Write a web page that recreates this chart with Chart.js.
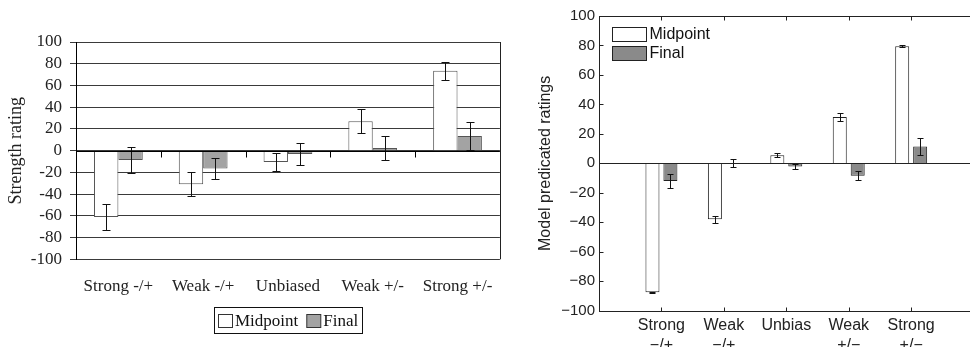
<!DOCTYPE html>
<html>
<head>
<meta charset="utf-8">
<script src="https://cdn.jsdelivr.net/npm/chart.js@4"></script>
<style>
  html, body { margin: 0; padding: 0; background: #fff; overflow: hidden; width: 970px; height: 347px; }
  #graficoEsq { position: absolute; left: 0; top: 0; }
  #graficoDir { position: absolute; left: 510px; top: 0; }
</style>
</head>
<body>
<canvas id="graficoEsq" width="510" height="347"></canvas>
<canvas id="graficoDir" width="470" height="347"></canvas>
<script>
// dados - grafico da esquerda (Strength rating)
const leftCategories = ['Strong -/+', 'Weak -/+', 'Unbiased', 'Weak +/-', 'Strong +/-'];
const leftMidpoint = [-61, -31, -10.5, 27, 73.5];
const leftMidpointErr = [12, 11, 8.5, 11, 8.5];
const leftFinal = [-8.5, -16.5, -3, 2.5, 13.5];
const leftFinalErr = [12, 10, 10, 11, 13];
const leftYTicks = [-100, -80, -60, -40, -20, 0, 20, 40, 60, 80, 100];

// dados - grafico da direita (Model predicated ratings)
const rightCategories = [['Strong', '\u2212/+'], ['Weak', '\u2212/+'], 'Unbias', ['Weak', '+/\u2212'], ['Strong', '+/\u2212']];
const rightMidpoint = [-87.5, -38, 5.5, 31.5, 79.5];
const rightMidpointErr = [0.5, 2.2, 1.2, 2.8, 0.5];
const rightFinal = [-12, 0.3, -2.2, -8.5, 11.5];
const rightFinalErr = [4.7, 2.6, 1.6, 3, 6];
const rightYTicks = [-100, -80, -60, -40, -20, 0, 20, 40, 60, 80, 100];

const serif = 'Liberation Serif';
const sans = 'Liberation Sans';

// barras de erro
const errorBars = {
  id: 'errorBars',
  afterDatasetsDraw(chart, args, opts) {
    const ctx = chart.ctx;
    const y = chart.scales.y;
    ctx.save();
    ctx.strokeStyle = '#111';
    ctx.lineWidth = 1;
    chart.data.datasets.forEach((ds, i) => {
      const meta = chart.getDatasetMeta(i);
      meta.data.forEach((bar, j) => {
        const v = ds.data[j];
        if (v == null) return;
        const e = ds.errors[j];
        const x = Math.round(bar.x) + 0.5;
        const y1 = Math.round(y.getPixelForValue(v + e)) + 0.5;
        const y2 = Math.round(y.getPixelForValue(v - e)) + 0.5;
        ctx.beginPath();
        ctx.moveTo(x, y1); ctx.lineTo(x, y2);
        ctx.moveTo(x - opts.cap, y1); ctx.lineTo(x + opts.cap, y1);
        ctx.moveTo(x - opts.cap, y2); ctx.lineTo(x + opts.cap, y2);
        ctx.stroke();
      });
    });
    ctx.restore();
  }
};

// borda direita, tracinhos no zero e legenda com moldura
const leftDecor = {
  id: 'leftDecor',
  afterDraw(chart) {
    const {ctx, chartArea: a} = chart;
    const xs = chart.scales.x, ys = chart.scales.y;
    ctx.save();
    ctx.strokeStyle = '#222';
    ctx.lineWidth = 1;
    ctx.beginPath();
    ctx.moveTo(Math.round(a.right) + 0.5, a.top);
    ctx.lineTo(Math.round(a.right) + 0.5, a.bottom);
    ctx.stroke();

    const y0 = Math.round(ys.getPixelForValue(0)) + 0.5;
    ctx.strokeStyle = '#000';
    ctx.beginPath();
    ctx.moveTo(a.left, y0); ctx.lineTo(a.right, y0);
    for (let k = 0; k < leftCategories.length - 1; k++) {
      const bx = Math.round((xs.getPixelForTick(k) + xs.getPixelForTick(k + 1)) / 2) + 0.5;
      ctx.moveTo(bx, y0); ctx.lineTo(bx, y0 + 6);
    }
    ctx.stroke();

    // legenda
    ctx.font = '17px "' + serif + '"';
    ctx.textBaseline = 'middle';
    const items = chart.data.datasets.map(ds => ({ text: ds.label, fill: ds.backgroundColor }));
    const sw = 15, gap = 2, between = 8, pad = 4;
    let total = pad * 2;
    items.forEach((it, i) => { total += sw + gap + ctx.measureText(it.text).width + (i ? between : 0); });
    const cx = (a.left + a.right) / 2;
    const boxTop = 307, boxH = 26;
    let x = Math.round(cx - total / 2);
    ctx.strokeStyle = '#111';
    ctx.strokeRect(x + 0.5, boxTop + 0.5, Math.round(total), boxH);
    x += pad;
    const midY = boxTop + boxH / 2 + 0.5;
    items.forEach((it, i) => {
      if (i) x += between;
      ctx.fillStyle = it.fill;
      ctx.fillRect(x + 0.5, Math.round(midY - 6.5) + 0.5, sw - 1, 13);
      ctx.strokeStyle = '#333';
      ctx.strokeRect(x + 0.5, Math.round(midY - 6.5) + 0.5, sw - 1, 13);
      x += sw + gap;
      ctx.fillStyle = '#111';
      ctx.fillText(it.text, x, midY + 1);
      x += ctx.measureText(it.text).width;
    });
    ctx.restore();
  }
};

new Chart(document.getElementById('graficoEsq').getContext('2d'), {
  type: 'bar',
  data: {
    labels: leftCategories,
    datasets: [
      {
        label: 'Midpoint',
        data: leftMidpoint,
        errors: leftMidpointErr,
        backgroundColor: '#ffffff',
        borderColor: '#555',
        borderWidth: 1,
        categoryPercentage: 0.575,
        barPercentage: 1
      },
      {
        label: 'Final',
        data: leftFinal,
        errors: leftFinalErr,
        backgroundColor: '#a3a3a3',
        borderColor: '#555',
        borderWidth: 1,
        categoryPercentage: 0.575,
        barPercentage: 1
      }
    ]
  },
  options: {
    responsive: false,
    animation: false,
    layout: { padding: { top: 42, right: 7, left: 0, bottom: 0 } },
    plugins: {
      legend: { display: false },
      tooltip: { enabled: false },
      errorBars: { cap: 4 }
    },
    scales: {
      x: {
        grid: { display: false, drawTicks: false },
        border: { display: false },
        ticks: { color: '#222', font: { family: serif, size: 17 }, padding: 17, maxRotation: 0, autoSkip: false },
        afterFit: s => { s.height = 87.7; }
      },
      y: {
        min: -100,
        max: 100,
        afterBuildTicks: s => { s.ticks = leftYTicks.map(v => ({ value: v })); },
        grid: { color: '#3a3a3a', lineWidth: 1, tickLength: 6, drawTicks: true },
        border: { display: true, color: '#000' },
        ticks: { color: '#222', font: { family: serif, size: 17 }, padding: 8, autoSkip: false },
        title: { display: true, text: 'Strength rating', color: '#222', font: { family: serif, size: 18 }, padding: { top: 5, bottom: 0 } },
        afterFit: s => { s.width = 76; }
      }
    }
  },
  plugins: [errorBars, leftDecor]
});

// moldura, tracinhos para dentro, linha do zero e legenda
const rightDecor = {
  id: 'rightDecor',
  afterDraw(chart) {
    const {ctx, chartArea: a} = chart;
    const xs = chart.scales.x, ys = chart.scales.y;
    const L = Math.round(a.left) + 0.5, R = Math.round(a.right) + 0.5;
    const T = Math.round(a.top) + 0.5, B = Math.round(a.bottom) + 0.5;
    ctx.save();
    ctx.strokeStyle = '#222';
    ctx.lineWidth = 1;
    ctx.strokeRect(L, T, R - L, B - T);
    const y0 = Math.round(ys.getPixelForValue(0)) + 0.5;
    ctx.beginPath();
    ctx.moveTo(L, y0); ctx.lineTo(R, y0);
    for (let k = 1; k < xs.ticks.length - 1; k++) {
      const x = Math.round(xs.getPixelForTick(k)) + 0.5;
      ctx.moveTo(x, B); ctx.lineTo(x, B - 4);
      ctx.moveTo(x, T); ctx.lineTo(x, T + 4);
    }
    rightYTicks.forEach(v => {
      const y = Math.round(ys.getPixelForValue(v)) + 0.5;
      ctx.moveTo(L, y); ctx.lineTo(L + 4, y);
      ctx.moveTo(R, y); ctx.lineTo(R - 4, y);
    });
    ctx.stroke();

    // legenda dentro do grafico
    ctx.font = '16px "' + sans + '"';
    ctx.textBaseline = 'middle';
    chart.data.datasets.forEach((ds, i) => {
      const sx = Math.round(a.left + 13) + 0.5;
      const sy = Math.round(a.top + 11 + i * 18.5) + 0.5;
      ctx.fillStyle = ds.backgroundColor;
      ctx.fillRect(sx, sy, 34, 14);
      ctx.strokeStyle = '#222';
      ctx.strokeRect(sx, sy, 34, 14);
      ctx.fillStyle = '#111';
      ctx.fillText(ds.label, sx + 37, sy + 7.5);
    });
    ctx.restore();
  }
};

new Chart(document.getElementById('graficoDir').getContext('2d'), {
  type: 'bar',
  data: {
    labels: ['', ...rightCategories, ''],
    datasets: [
      {
        label: 'Midpoint',
        data: [null, ...rightMidpoint, null],
        errors: [0, ...rightMidpointErr, 0],
        backgroundColor: '#ffffff',
        borderColor: '#222',
        borderWidth: 1,
        categoryPercentage: 0.575,
        barPercentage: 0.78
      },
      {
        label: 'Final',
        data: [null, ...rightFinal, null],
        errors: [0, ...rightFinalErr, 0],
        backgroundColor: '#8a8a8a',
        borderColor: '#222',
        borderWidth: 1,
        categoryPercentage: 0.575,
        barPercentage: 0.78
      }
    ]
  },
  options: {
    responsive: false,
    animation: false,
    layout: { padding: { top: 16, right: 6.4, left: 0, bottom: 0 } },
    plugins: {
      legend: { display: false },
      tooltip: { enabled: false },
      errorBars: { cap: 3 }
    },
    scales: {
      x: {
        offset: false,
        grid: { display: false, offset: false, drawTicks: false },
        border: { display: false },
        ticks: { color: '#222', font: { family: sans, size: 16, lineHeight: 1.3 }, padding: 4, maxRotation: 0, autoSkip: false },
        afterFit: s => { s.height = 36.3; }
      },
      y: {
        min: -100,
        max: 100,
        afterBuildTicks: s => { s.ticks = rightYTicks.map(v => ({ value: v })); },
        grid: { display: false, drawTicks: false },
        border: { display: false },
        ticks: {
          color: '#222',
          font: { family: sans, size: 15 },
          padding: 4,
          autoSkip: false,
          callback: v => v < 0 ? '\u2212' + Math.abs(v) : String(v)
        },
        title: { display: true, text: 'Model predicated ratings', color: '#222', font: { family: sans, size: 16 }, padding: { top: 26, bottom: 0 } },
        afterFit: s => { s.width = 89; }
      }
    }
  },
  plugins: [errorBars, rightDecor]
});
</script>
</body>
</html>
